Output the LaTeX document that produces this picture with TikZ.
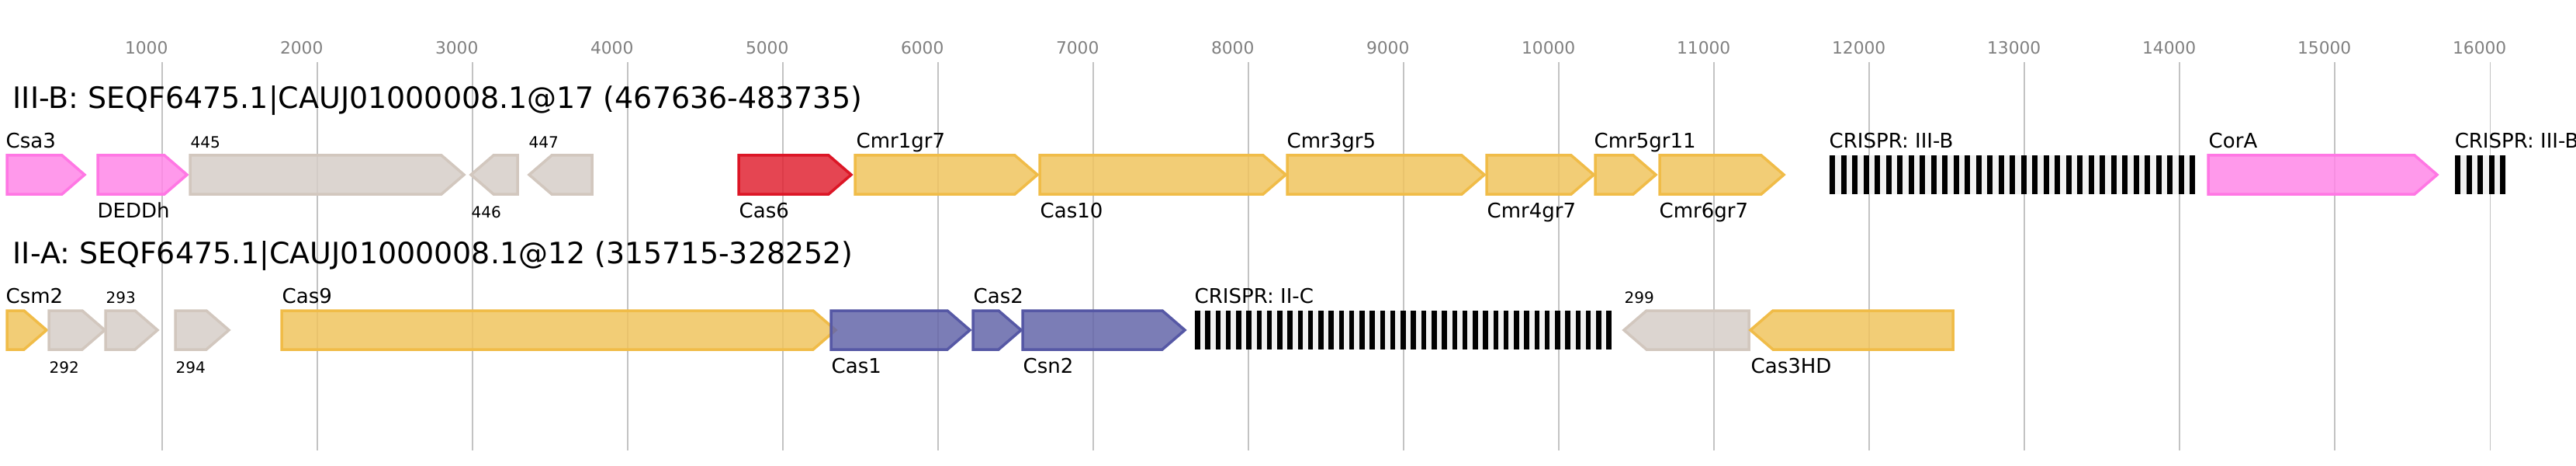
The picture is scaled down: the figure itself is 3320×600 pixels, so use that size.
\documentclass[tikz,border=0pt]{standalone}
\usepackage{fontspec}
\setmainfont{DejaVu Sans}
\usetikzlibrary{positioning}

%% gene arrows: start, end, centre line, style
\newcommand{\fwgene}[4]{\draw[#4] (#1,#3-25) -- (#2-29,#3-25) -- (#2,#3) -- (#2-29,#3+25) -- (#1,#3+25) -- cycle;}
\newcommand{\rvgene}[4]{\draw[#4] (#2,#3-25) -- (#1+29,#3-25) -- (#1,#3) -- (#1+29,#3+25) -- (#2,#3+25) -- cycle;}

\begin{document}
\begin{tikzpicture}[x=0.1mm, y=-0.1mm,
    every node/.style={inner sep=0pt, anchor=base west},
    titletext/.style={font=\fontsize{10.8}{12}\selectfont},
    genelabel/.style={font=\fontsize{7.4}{9}\selectfont},
    smalllabel/.style={font=\fontsize{5.7}{7}\selectfont},
    ticklabel/.style={font=\fontsize{6.2}{7}\selectfont, text=tickgrey},
    gridline/.style={draw=gridgrey, line width=0.17mm},
    gene/.style={line width=0.35mm, fill opacity=0.85},
    pinkgene/.style={gene, draw=pinkline, fill=pinkfill},
    greygene/.style={gene, draw=greyline, fill=greyfill},
    redgene/.style={gene, draw=redline, fill=redfill},
    yellowgene/.style={gene, draw=yellowline, fill=yellowfill},
    purplegene/.style={gene, draw=purpleline, fill=purplefill},
    crisprbg/.style={fill=crisprgrey, fill opacity=0.9}]

\definecolor{tickgrey}{RGB}{128,128,128}
\definecolor{gridgrey}{RGB}{195,195,195}
\definecolor{crisprgrey}{RGB}{240,240,240}
\definecolor{pinkfill}{RGB}{255,135,231}
\definecolor{pinkline}{RGB}{255,119,228}
\definecolor{greyfill}{RGB}{214,206,200}
\definecolor{greyline}{RGB}{210,199,190}
\definecolor{redfill}{RGB}{224,36,52}
\definecolor{redline}{RGB}{220,22,38}
\definecolor{yellowfill}{RGB}{240,196,94}
\definecolor{yellowline}{RGB}{240,188,72}
\definecolor{purplefill}{RGB}{100,102,169}
\definecolor{purpleline}{RGB}{86,88,165}

\useasboundingbox (0,0) rectangle (3320,600);

    %% scale
    \foreach \k in {1,...,16} {
      \draw[gridline] ({209.3+200*(\k-1)},80) -- ({209.3+200*(\k-1)},580);
      \node[ticklabel] (tick\k) at ({160.3+200*(\k-1)},70) {\k000};
    }

    %% III-B locus
    \node[titletext] (iiibtitle) at (16,139) {III-B: SEQF6475.1|CAUJ01000008.1@17 (467636-483735)};

    \fwgene{9}{109}{225}{pinkgene}
    \fwgene{126}{241}{225}{pinkgene}
    \fwgene{245}{598}{225}{greygene}
    \rvgene{607}{667}{225}{greygene}
    \rvgene{682}{763}{225}{greygene}
    \fwgene{952}{1097}{225}{redgene}
    \fwgene{1102}{1337}{225}{yellowgene}
    \fwgene{1340}{1657}{225}{yellowgene}
    \fwgene{1659}{1913}{225}{yellowgene}
    \fwgene{1916}{2054}{225}{yellowgene}
    \fwgene{2056}{2134}{225}{yellowgene}
    \fwgene{2139}{2299}{225}{yellowgene}
    \fwgene{2846}{3141}{225}{pinkgene}

    % arrays
    \fill[crisprbg] (2357,200) rectangle (2830,250);
    \foreach \i in {0,...,32} \fill[black] ({2358+14.5*\i},200) rectangle +(7,50);
    \fill[crisprbg] (3164,200) rectangle (3230,250);
    \foreach \i in {0,...,4} \fill[black] ({3164+14.6*\i},200) rectangle +(7,50);

    \node[genelabel] (csa3label) at (7,190) {Csa3};
    \node[genelabel] (deddhlabel) at (125,280) {DEDDh};
    \node[smalllabel] (g445label) at (245,190) {445};
    \node[smalllabel] (g446label) at (607,280) {446};
    \node[smalllabel] (g447label) at (681,190) {447};
    \node[genelabel] (cas6label) at (952,280) {Cas6};
    \node[genelabel] (cmr1label) at (1103,190) {Cmr1gr7};
    \node[genelabel] (cas10label) at (1340,280) {Cas10};
    \node[genelabel] (cmr3label) at (1658,190) {Cmr3gr5};
    \node[genelabel] (cmr4label) at (1916,280) {Cmr4gr7};
    \node[genelabel] (cmr5label) at (2054,190) {Cmr5gr11};
    \node[genelabel] (cmr6label) at (2138,280) {Cmr6gr7};
    \node[genelabel] (crispr1label) at (2357,190) {CRISPR: III-B};
    \node[genelabel] (coralabel) at (2846,190) {CorA};
    \node[genelabel] (crispr2label) at (3163,190) {CRISPR: III-B};

    %% II-A locus
    \node[titletext] (iiatitle) at (16,339) {II-A: SEQF6475.1|CAUJ01000008.1@12 (315715-328252)};

    \fwgene{9}{60}{425}{yellowgene}
    \fwgene{63}{135}{425}{greygene}
    \fwgene{136}{203}{425}{greygene}
    \fwgene{226}{295}{425}{greygene}
    \fwgene{363}{1077}{425}{yellowgene}
    \fwgene{1071}{1250}{425}{purplegene}
    \fwgene{1254}{1316}{425}{purplegene}
    \fwgene{1318}{1527}{425}{purplegene}
    \rvgene{2093}{2254}{425}{greygene}
    \rvgene{2256}{2517}{425}{yellowgene}

    % array
    \fill[crisprbg] (1539,400) rectangle (2077,450);
    \foreach \i in {0,...,40} \fill[black] ({1540+13.26*\i},400) rectangle +(6.5,50);

    \node[genelabel] (csm2label) at (7,390) {Csm2};
    \node[smalllabel] (g292label) at (63,480) {292};
    \node[smalllabel] (g293label) at (136,390) {293};
    \node[smalllabel] (g294label) at (226,480) {294};
    \node[genelabel] (cas9label) at (363,390) {Cas9};
    \node[genelabel] (cas1label) at (1071,480) {Cas1};
    \node[genelabel] (cas2label) at (1254,390) {Cas2};
    \node[genelabel] (csn2label) at (1318,480) {Csn2};
    \node[genelabel] (crispr3label) at (1539,390) {CRISPR: II-C};
    \node[smalllabel] (g299label) at (2093,390) {299};
    \node[genelabel] (cas3label) at (2256,480) {Cas3HD};
  \end{tikzpicture}
\end{document}
